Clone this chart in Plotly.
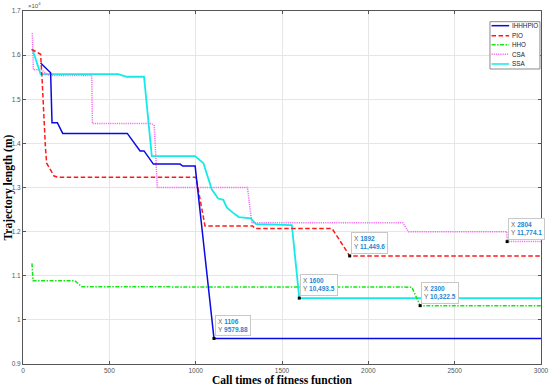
import plotly.graph_objects as go

# ---------------- data ----------------
series_names = ["IHHHPIO", "PIO", "HHO", "CSA", "SSA"]

ihhhpio_x = [102, 160, 168, 199, 230, 604, 678, 701, 755, 910, 925, 997, 1106, 3000]
ihhhpio_y = [15820, 15600, 14470, 14470, 14226, 14226, 13830, 13830, 13530, 13530, 13486, 13486, 9579.88, 9579.88]

pio_x = [50, 102, 110, 120, 130, 137, 156, 180, 205, 1002, 1054, 1330, 1345, 1790, 1892, 3000]
pio_y = [16130, 16020, 15500, 14600, 13900, 13550, 13410, 13260, 13230, 13230, 12130, 12130, 12070, 12070, 11449.6, 11449.6]

hho_x = [52, 58, 301, 340, 2252, 2300, 3000]
hho_y = [11280, 10885, 10885, 10750, 10742, 10322.5, 10322.5]

csa_x = [54, 60, 105, 150, 398, 402, 745, 760, 778, 1300, 1325, 2200, 2232, 2802, 2804, 3000]
csa_y = [16500, 15670, 15670, 15540, 15540, 14450, 14450, 14400, 13000, 13000, 12200, 12200, 12000, 12000, 11774.1, 11774.1]

ssa_x = [54, 102, 552, 601, 701, 746, 997, 1045, 1093, 1110, 1130, 1160, 1180, 1215, 1250, 1320, 1350, 1557, 1600, 3000]
ssa_y = [16140, 15570, 15570, 15510, 15510, 13710, 13710, 13550, 12960, 12850, 12750, 12720, 12550, 12430, 12330, 12300, 12170, 12150, 10493.5, 10493.5]

tip_x = [1106, 1600, 1892, 2300, 2804]
tip_y = [9579.88, 10493.5, 11449.6, 10322.5, 11774.1]
tip_text_y = ["9579.88", "10,493.5", "11,449.6", "10,322.5", "11,774.1"]

x_ticks = [0, 500, 1000, 1500, 2000, 2500, 3000]
y_ticks = [9000, 10000, 11000, 12000, 13000, 14000, 15000, 16000, 17000]
y_tick_labels = ["0.9", "1", "1.1", "1.2", "1.3", "1.4", "1.5", "1.6", "1.7"]

x_title = "Call times of fitness function"
y_title = "Trajectory length (m)"

# ---------------- styles ----------------
colors = ["#0a0ae6", "#ff1a1a", "#14e614", "#f070f0", "#14eaea"]
dashes = ["solid", "4.5px,2.5px", "4px,1.5px,1.5px,1.5px", "1.2px,1px", "solid"]
widths = [1.5, 1.5, 1.5, 1.5, 1.8]

xs = [ihhhpio_x, pio_x, hho_x, csa_x, ssa_x]
ys = [ihhhpio_y, pio_y, hho_y, csa_y, ssa_y]

fig = go.Figure()
order = [4, 3, 2, 1, 0]
for i in order:
    fig.add_trace(go.Scatter(
        x=xs[i], y=ys[i], mode="lines", name=series_names[i],
        line=dict(color=colors[i], dash=dashes[i], width=widths[i]),
        showlegend=False,
    ))

fig.add_trace(go.Scatter(
    x=tip_x, y=tip_y, mode="markers",
    marker=dict(color="black", size=3, symbol="square"),
    showlegend=False,
))

annotations = []
for tx, ty, tt in zip(tip_x, tip_y, tip_text_y):
    annotations.append(dict(
        x=tx, y=ty, xref="x", yref="y", showarrow=False,
        xanchor="left", yanchor="bottom", xshift=1, yshift=2,
        align="left",
        text=f"<span style='color:#666'>X</span> <b><span style='color:#1a8ad6'>{tx}</span></b><br>"
             f"<span style='color:#666'>Y</span> <b><span style='color:#1a8ad6'>{tt}</span></b>",
        font=dict(family="Liberation Sans, Arial", size=6.5),
        bgcolor="white", bordercolor="#c8c8c8", borderwidth=1, borderpad=2,
    ))

# x10^4 exponent label
annotations.append(dict(
    x=0.005, y=1.0, xref="paper", yref="paper", showarrow=False,
    xanchor="left", yanchor="bottom", text="×10<sup>4</sup>",
    font=dict(family="Liberation Sans, Arial", size=6, color="#555"),
))

# axis titles
annotations.append(dict(
    x=0.5, y=0, xref="paper", yref="paper", yshift=-16, showarrow=False,
    xanchor="center", yanchor="middle", text=f"<b>{x_title}</b>",
    font=dict(family="Liberation Serif, Times New Roman", size=11.5, color="black"),
))
annotations.append(dict(
    x=0, y=0.5, xref="paper", yref="paper", xshift=-15, showarrow=False,
    xanchor="center", yanchor="middle", textangle=-90, text=f"<b>{y_title}</b>",
    font=dict(family="Liberation Serif, Times New Roman", size=11.5, color="black"),
))

# custom legend
leg_x0, leg_x1 = 0.9015, 0.998
leg_top, leg_bot = 0.9697, 0.8357
entry_y = [0.9584, 0.9300, 0.9045, 0.8773, 0.8499]
shapes = [dict(type="rect", xref="paper", yref="paper",
               x0=leg_x0, x1=leg_x1, y0=leg_bot, y1=leg_top,
               line=dict(color="#8a8a8a", width=1), fillcolor="white", layer="above")]
for i, name in enumerate(series_names):
    shapes.append(dict(type="line", xref="paper", yref="paper",
                       x0=0.9045, x1=0.9385, y0=entry_y[i], y1=entry_y[i],
                       line=dict(color=colors[i], dash=dashes[i], width=1.5), layer="above"))
    annotations.append(dict(x=0.9395, y=entry_y[i], xref="paper", yref="paper",
                            showarrow=False, xanchor="left", yanchor="middle",
                            text=name, font=dict(family="Liberation Sans, Arial", size=6.3, color="#222")))

axis_common = dict(
    showgrid=True, gridcolor="#e6e6e6", gridwidth=1,
    showline=True, linecolor="#555", linewidth=1, mirror="ticks",
    ticks="inside", ticklen=3, tickcolor="#555",
    tickfont=dict(family="Liberation Sans, Arial", size=6.5, color="#555"),
    zeroline=False, automargin=False,
)

fig.update_layout(
    width=550, height=389,
    margin=dict(l=23, r=9, t=11, b=25),
    paper_bgcolor="white", plot_bgcolor="white",
    xaxis=dict(range=[0, 3000], tickvals=x_ticks, ticktext=[str(v) for v in x_ticks], **axis_common),
    yaxis=dict(range=[9000, 17000], tickvals=y_ticks, ticktext=y_tick_labels, **axis_common),
    annotations=annotations, shapes=shapes,
    showlegend=False,
)

fig.write_html("out.html", config={"displayModeBar": False},
               post_script="document.body.style.margin='0';document.body.style.overflow='hidden';")
